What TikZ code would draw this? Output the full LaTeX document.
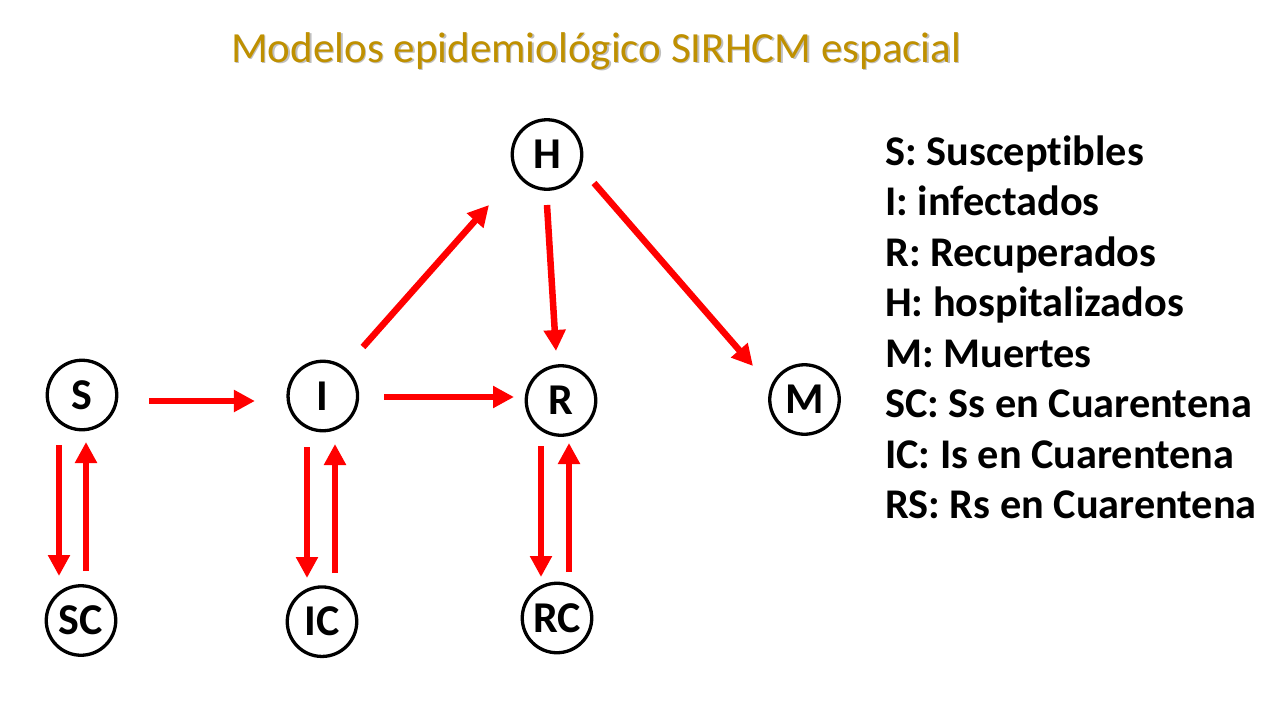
\documentclass[tikz,border=0pt]{standalone}
\usepackage{fontspec}
\setmainfont{Carlito}[RawFeature=-liga]
\usepackage{tikz}
\usetikzlibrary{arrows.meta}

\definecolor{titlegold}{RGB}{191,144,0}

\tikzset{
	state/.style={circle, draw, line width=3.3pt, minimum size=69.5pt, inner sep=0pt,
		font=\bfseries\fontsize{44}{52}\selectfont},
	flow/.style={red, line width=6.5pt, -{Triangle[length=21pt, width=21pt]}},
	legend/.style={anchor=base west, inner sep=0pt, font=\bfseries\fontsize{42.3}{50}\selectfont}
}

\begin{document}
\begin{tikzpicture}[x=1pt, y=-1pt]
	\useasboundingbox (0,0) rectangle (1280,720);

	% Title
	\node (titleshadow) [anchor=base west, inner sep=0pt, text=black!25,
		font=\fontsize{43}{52}\selectfont] at (232.5,63.5) {Modelos epidemiológico SIRHCM espacial};
	\node (title) [anchor=base west, inner sep=0pt, text=titlegold,
		font=\fontsize{43}{52}\selectfont] at (231,62) {Modelos epidemiológico SIRHCM espacial};

	% Define nodes
	\node (S) [state] at (82,395) {S};
	\node (I) [state] at (322.8,396) {I};
	\node (R) [state] at (561,400.5) {R};
	\node (H) [state] at (547,154.5) {H};
	\node (M) [state] at (804.5,399.5) {M};
	\node (SC) [state] at (81,620.5) {SC};
	\node (IC) [state] at (322,621.7) {IC};
	\node (RC) [state] at (557,618) {RC};

	% Main flows
	\draw[flow] ([shift={(31,6)}]S.east) -- ([shift={(-31.5,5)}]I.west);
	\draw[flow] ([shift={(25,1)}]I.east) -- ([shift={(-10.6,-3.5)}]R.west);
	\draw[flow] ([shift={(40.2,-49)}]I.center) -- ([shift={(-58,50.5)}]H.center);
	\draw[flow] ([shift={(0,50.5)}]H.center) -- ([shift={(-5,-49.5)}]R.center);
	\draw[flow] ([shift={(47,28.5)}]H.center) -- ([shift={(-51.5,-33.5)}]M.center);

	% Quarantine in and out
	\draw[flow] ([shift={(-23,50)}]S.center) -- ([shift={(-22,-44.5)}]SC.center);
	\draw[flow] ([shift={(5,-49.5)}]SC.center) -- ([shift={(4,47)}]S.center);
	\draw[flow] ([shift={(-15.8,51)}]I.center) -- ([shift={(-15,-43.7)}]IC.center);
	\draw[flow] ([shift={(13,-48.7)}]IC.center) -- ([shift={(12.2,48)}]I.center);
	\draw[flow] ([shift={(-20,45.5)}]R.center) -- ([shift={(-16,-41)}]RC.center);
	\draw[flow] ([shift={(12,-46)}]RC.center) -- ([shift={(8,42.5)}]R.center);

	% Legend
	\node (legS) [legend] at (885,165) {S: Susceptibles};
	\node (legI) [legend] at (885,215.5) {I: infectados};
	\node (legR) [legend] at (885,266) {R: Recuperados};
	\node (legH) [legend] at (885,316.5) {H: hospitalizados};
	\node (legM) [legend] at (885,367) {M: Muertes};
	\node (legSC) [legend] at (885,417.5) {SC: Ss en Cuarentena};
	\node (legIC) [legend] at (885,468) {IC: Is en Cuarentena};
	\node (legRC) [legend] at (885,518.5) {RS: Rs en Cuarentena};
\end{tikzpicture}
\end{document}
